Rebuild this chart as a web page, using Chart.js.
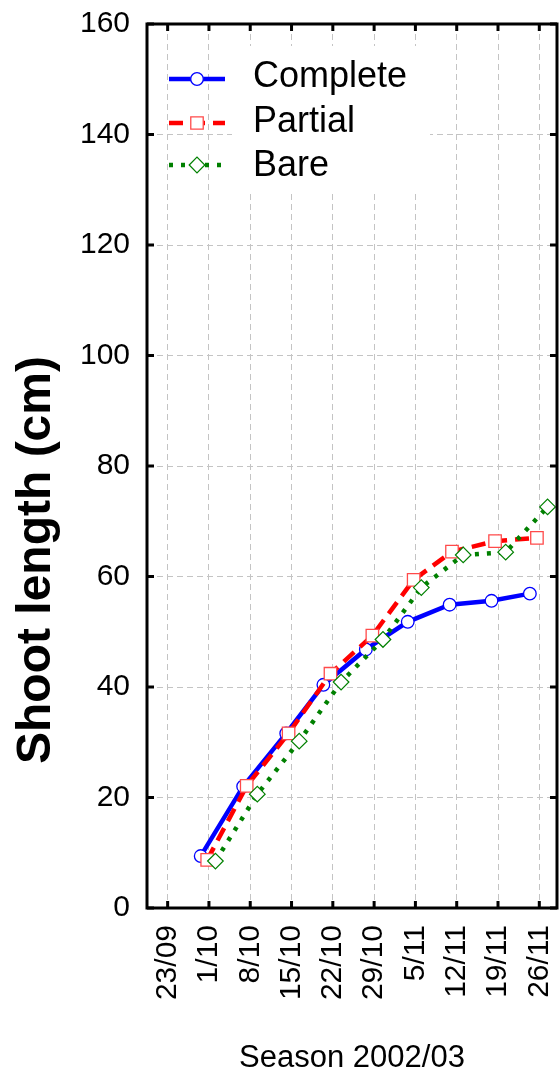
<!DOCTYPE html>
<html>
<head>
<meta charset="utf-8">
<script src="https://cdn.jsdelivr.net/npm/chart.js@4.4.0/dist/chart.umd.min.js"></script>
<style>
    html, body { margin: 0; padding: 0; background: #fff; }
    #wrap { width: 560px; height: 1073px; position: relative; }
</style>
</head>
<body>
<div id="wrap"><canvas id="shootChart"></canvas></div>
<script>
// x = days since 23/09, ticks every week
const dateLabels = ['23/09', '1/10', '8/10', '15/10', '22/10', '29/10', '5/11', '12/11', '19/11', '26/11'];

const completeDays = [5.6, 12.8, 20.1, 26.4, 33.6, 40.7, 47.8, 54.9, 61.4];
const completeVals = [9.4, 22.0, 31.6, 40.4, 46.8, 51.8, 54.9, 55.6, 56.9];

const partialDays = [6.7, 13.4, 20.5, 27.6, 34.7, 41.7, 48.2, 55.5, 62.6];
const partialVals = [8.7, 22.1, 31.6, 42.4, 49.3, 59.4, 64.5, 66.4, 67.0];

const bareDays = [8.1, 15.2, 22.3, 29.4, 36.5, 43.0, 50.1, 57.3, 64.4];
const bareVals = [8.5, 20.6, 30.2, 40.9, 48.6, 58.0, 63.9, 64.4, 72.6];

const FONT = "'Liberation Sans', Arial, sans-serif";
const PLOT_RIGHT_GAP = 3;

function toPoints(days, vals) {
    return days.map((d, i) => ({ x: d, y: vals[i] }));
}

// la zone de tracé va presque jusqu'au bord droit
const areaPlugin = {
    id: 'area',
    afterLayout(chart) {
        const xs = chart.scales.x;
        const right = chart.width - PLOT_RIGHT_GAP;
        xs.right = right;
        xs.width = right - xs.left;
        chart.chartArea.right = right;
        chart.chartArea.width = right - chart.chartArea.left;
        xs.configure();
    }
};

// Cadre, petites graduations vers l'intérieur, légende et titres
const framePlugin = {
    id: 'frame',
    afterDraw(chart) {
        const ctx = chart.ctx;
        const { left, right, top, bottom } = chart.chartArea;
        const xs = chart.scales.x, ys = chart.scales.y;

        ctx.save();
        // legend
        ctx.fillStyle = '#fff';
        ctx.fillRect(232, 46, 198, 146);
        const rows = [
            { ds: chart.data.datasets[0], y: 79, ty: 87 },
            { ds: chart.data.datasets[1], y: 123, ty: 132 },
            { ds: chart.data.datasets[2], y: 165, ty: 176 }
        ];
        rows.forEach(r => {
            ctx.save();
            ctx.strokeStyle = r.ds.borderColor;
            ctx.lineWidth = r.ds.borderWidth;
            ctx.setLineDash(r.ds.borderDash || []);
            ctx.beginPath();
            ctx.moveTo(169, r.y);
            ctx.lineTo(225, r.y);
            ctx.stroke();
            ctx.restore();
            ctx.save();
            ctx.fillStyle = '#fff';
            ctx.strokeStyle = r.ds.pointBorderColor;
            ctx.lineWidth = r.ds.pointBorderWidth;
            Chart.helpers.drawPoint(ctx, {
                pointStyle: r.ds.pointStyle,
                radius: r.ds.pointRadius,
                borderWidth: r.ds.pointBorderWidth,
                rotation: 0
            }, 197, r.y);
            ctx.restore();
            ctx.fillStyle = '#000';
            ctx.font = '36px ' + FONT;
            ctx.textAlign = 'left';
            ctx.textBaseline = 'alphabetic';
            ctx.fillText(r.ds.label, 253, r.ty);
        });

        // frame
        ctx.strokeStyle = '#000';
        ctx.lineWidth = 3;
        ctx.setLineDash([]);
        ctx.strokeRect(left, top, right - left, bottom - top);

        // inward ticks
        ctx.lineWidth = 3;
        xs.ticks.forEach(t => {
            const px = xs.getPixelForValue(t.value);
            ctx.beginPath();
            ctx.moveTo(px, bottom); ctx.lineTo(px, bottom - 7);
            ctx.moveTo(px, top); ctx.lineTo(px, top + 7);
            ctx.stroke();
        });
        ys.ticks.forEach(t => {
            const py = ys.getPixelForValue(t.value);
            ctx.beginPath();
            ctx.moveTo(left, py); ctx.lineTo(left + 7, py);
            ctx.moveTo(right, py); ctx.lineTo(right - 7, py);
            ctx.stroke();
        });

        // axis titles
        ctx.fillStyle = '#000';
        ctx.font = '31px ' + FONT;
        ctx.textAlign = 'center';
        ctx.textBaseline = 'alphabetic';
        ctx.fillText('Season 2002/03', (left + right) / 2, 1067);

        ctx.translate(50, 560);
        ctx.rotate(-Math.PI / 2);
        ctx.font = 'bold 48px ' + FONT;
        ctx.fillText('Shoot length (cm)', 0, 0);
        ctx.restore();
    }
};

const ctx = document.getElementById('shootChart').getContext('2d');
new Chart(ctx, {
    type: 'line',
    data: {
        datasets: [
            {
                label: 'Complete',
                data: toPoints(completeDays, completeVals),
                borderColor: '#0000ff',
                borderWidth: 4.5,
                pointStyle: 'circle',
                pointRadius: 6.3,
                pointBackgroundColor: '#fff',
                pointBorderColor: '#0000ff',
                pointBorderWidth: 1.3,
                order: 3
            },
            {
                label: 'Partial',
                data: toPoints(partialDays, partialVals),
                borderColor: '#ff0000',
                borderWidth: 4.5,
                borderDash: [14, 8],
                pointStyle: 'rect',
                pointRadius: 8.8,
                pointBackgroundColor: '#fff',
                pointBorderColor: '#ff4a4a',
                pointBorderWidth: 1.3,
                order: 2
            },
            {
                label: 'Bare',
                data: toPoints(bareDays, bareVals),
                borderColor: '#008000',
                borderWidth: 4.5,
                borderDash: [4, 8],
                pointStyle: 'rectRot',
                pointRadius: 7.8,
                pointBackgroundColor: '#fff',
                pointBorderColor: '#008000',
                pointBorderWidth: 1.2,
                order: 1
            }
        ]
    },
    options: {
        responsive: true,
        maintainAspectRatio: false,
        animation: false,
        layout: { padding: { top: 24, right: 3, left: 0, bottom: 0 } },
        plugins: {
            legend: { display: false },
            tooltip: { enabled: false }
        },
        elements: { line: { tension: 0, borderCapStyle: 'butt' } },
        scales: {
            x: {
                type: 'linear',
                min: -3.5,
                max: 66,
                afterBuildTicks: scale => {
                    scale.ticks = dateLabels.map((_, i) => ({ value: i * 7 }));
                },
                afterFit: scale => {
                    scale.height = 165;
                    scale.paddingLeft = 0;
                    scale.paddingRight = 0;
                },
                border: { display: false, dash: [6, 4] },
                grid: { color: '#c4c4c4', lineWidth: 1, drawTicks: false },
                ticks: {
                    autoSkip: false,
                    minRotation: 90,
                    maxRotation: 90,
                    padding: 17,
                    color: '#000',
                    font: { family: FONT, size: 30 },
                    callback: v => dateLabels[Math.round(v / 7)]
                }
            },
            y: {
                min: 0,
                max: 160,
                afterFit: scale => {
                    scale.width = 147;
                    scale.paddingTop = 0;
                    scale.paddingBottom = 0;
                },
                border: { display: false, dash: [6, 4] },
                grid: { color: '#c4c4c4', lineWidth: 1, drawTicks: false },
                ticks: {
                    stepSize: 20,
                    padding: 17,
                    color: '#000',
                    font: { family: FONT, size: 30 }
                }
            }
        }
    },
    plugins: [areaPlugin, framePlugin]
});
</script>
</body>
</html>
